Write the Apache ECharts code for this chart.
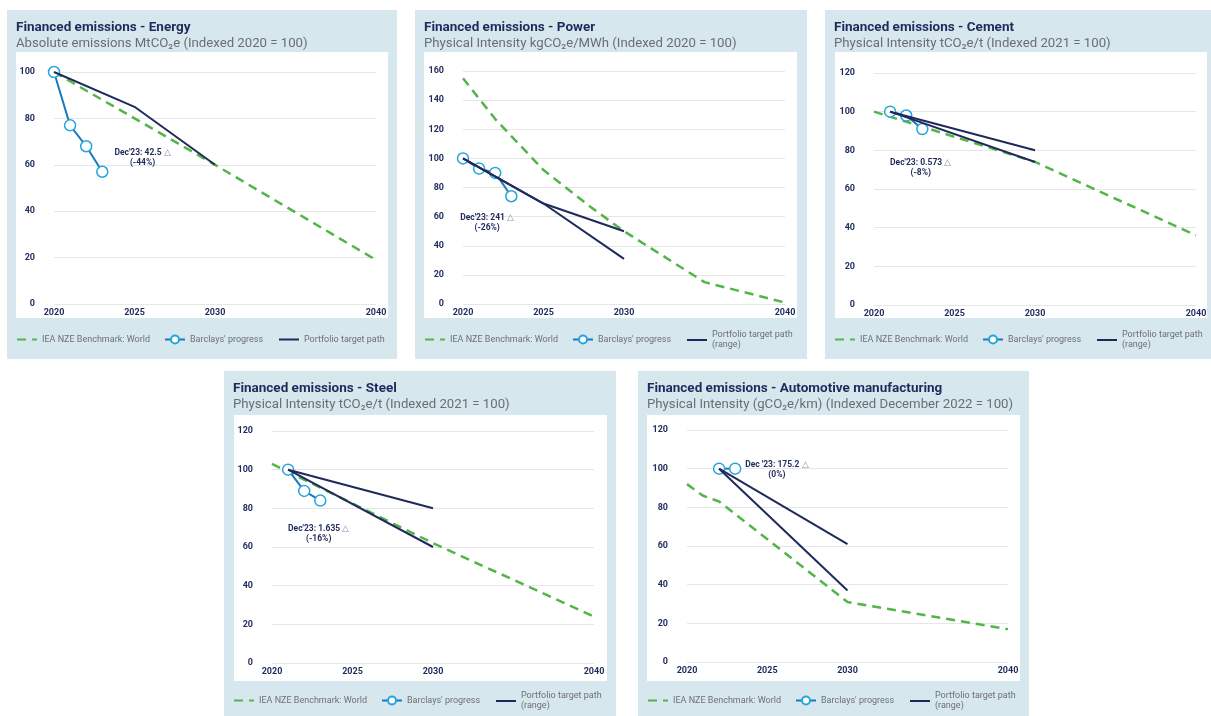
<!DOCTYPE html>
<html>
<head>
<meta charset="utf-8">
<script src="https://cdn.jsdelivr.net/npm/echarts@6/dist/echarts.min.js"></script>
<style>
  html, body { margin: 0; padding: 0; background: #fff; }
  #chart { width: 1211px; height: 716px; }
</style>
</head>
<body>
<div id="chart"></div>
<script>
// values: [year, index]
const xTicks = [2020, 2025, 2030, 2040];

const energyIea = [[2020, 100], [2030, 60], [2040, 19]];
const energyProgress = [[2020, 100], [2021, 77], [2022, 68], [2023, 57]];
const energyTargets = [[[2020, 100], [2025, 85], [2030, 60]]];

const powerIea = [[2020, 155], [2022, 127], [2025, 92], [2028, 66], [2030, 50], [2035, 15], [2040, 1]];
const powerProgress = [[2020, 100], [2021, 93], [2022, 90], [2023, 74]];
const powerTargets = [[[2020, 100], [2025, 69], [2030, 50]], [[2020, 100], [2025, 69], [2030, 31]]];

const cementIea = [[2020, 100], [2030, 74], [2040, 36]];
const cementProgress = [[2021, 100], [2022, 98], [2023, 91]];
const cementTargets = [[[2021, 100], [2030, 80]], [[2021, 100], [2030, 74]]];

const steelIea = [[2020, 103], [2030, 62], [2040, 24]];
const steelProgress = [[2021, 100], [2022, 89], [2023, 84]];
const steelTargets = [[[2021, 100], [2030, 80]], [[2021, 100], [2030, 60]]];

const autoIea = [[2020, 92], [2021, 86], [2022, 83], [2030, 31], [2040, 17]];
const autoProgress = [[2022, 100], [2023, 100]];
const autoTargets = [[[2022, 100], [2030, 61]], [[2022, 100], [2030, 37]]];

const yMaxes = [100, 160, 120, 120, 120];

const titles = [
  'Financed emissions - Energy',
  'Financed emissions - Power',
  'Financed emissions - Cement',
  'Financed emissions - Steel',
  'Financed emissions - Automotive manufacturing'
];
const subtitles = [
  'Absolute emissions MtCO₂e (Indexed 2020 = 100)',
  'Physical Intensity kgCO₂e/MWh (Indexed 2020 = 100)',
  'Physical Intensity tCO₂e/t (Indexed 2021 = 100)',
  'Physical Intensity tCO₂e/t (Indexed 2021 = 100)',
  'Physical Intensity (gCO₂e/km) (Indexed December 2022 = 100)'
];
const noteLines = [
  ["Dec'23: 42.5", '(-44%)'],
  ["Dec'23: 241", '(-26%)'],
  ["Dec'23: 0.573", '(-8%)'],
  ["Dec'23: 1.635", '(-16%)'],
  ["Dec '23: 175.2", '(0%)']
];
const noteAt = [[2025.5, 63], [2021.5, 55.5], [2022.9, 71], [2022.9, 67], [2025.6, 99.3]];

const ieaName = 'IEA NZE Benchmark: World';
const progressName = "Barclays' progress";
const targetNames = ['Portfolio target path', 'Portfolio target path\n(range)',
  'Portfolio target path\n(range)', 'Portfolio target path\n(range)', 'Portfolio target path\n(range)'];

const ieaSets = [energyIea, powerIea, cementIea, steelIea, autoIea];
const progressSets = [energyProgress, powerProgress, cementProgress, steelProgress, autoProgress];
const targetSets = [energyTargets, powerTargets, cementTargets, steelTargets, autoTargets];

// layout (pixels)
const panels = [
  { box: [7, 10, 390, 349], plot: [16, 52, 372, 266], grid: [54, 72, 322, 232] },
  { box: [415, 10, 392, 349], plot: [424, 52, 373, 266], grid: [463, 71, 322, 233] },
  { box: [825, 10, 386, 349], plot: [835, 52, 372, 266], grid: [874, 73, 322, 232] },
  { box: [224, 371, 392, 345], plot: [234, 415, 373, 266], grid: [272, 431, 322, 232] },
  { box: [638, 371, 391, 345], plot: [647, 415, 373, 266], grid: [687, 430, 321, 232] }
];

const NAVY = '#1f2a5c';
const GREEN = '#52b548';
const BLUE_LINE = '#1c79b9';
const BLUE_MARK = '#25a5dd';
const FONT = 'Roboto';

const chart = echarts.init(document.getElementById('chart'));

let graphics = [];
let title = [];
let grid = [];
let xAxis = [];
let yAxis = [];
let series = [];
let legend = [];

panels.forEach((p, i) => {
  graphics.push({
    type: 'rect', z: -20,
    shape: { x: p.box[0], y: p.box[1], width: p.box[2], height: p.box[3] },
    style: { fill: '#d6e8ee' }
  });
  graphics.push({
    type: 'rect', z: -19,
    shape: { x: p.plot[0], y: p.plot[1], width: p.plot[2], height: p.plot[3] },
    style: { fill: '#ffffff' }
  });

  title.push({
    text: titles[i],
    subtext: subtitles[i],
    left: p.box[0] + 9,
    top: p.box[1] + 10,
    padding: 0,
    itemGap: 1,
    textStyle: { fontFamily: FONT, fontSize: 13.5, fontWeight: 'bold', color: NAVY, lineHeight: 15 },
    subtextStyle: { fontFamily: FONT, fontSize: 13.2, color: '#6b6d73', lineHeight: 15 }
  });

  grid.push({ left: p.grid[0], top: p.grid[1], width: p.grid[2], height: p.grid[3] });

  xAxis.push({
    type: 'value', gridIndex: i, min: 2020, max: 2040, interval: 5,
    axisLine: { show: false }, axisTick: { show: false }, splitLine: { show: false },
    axisLabel: {
      margin: 4, fontFamily: FONT, fontSize: 9, fontWeight: 'bold', color: NAVY,
      formatter: v => (xTicks.includes(v) ? String(v) : '')
    }
  });

  yAxis.push({
    type: 'value', gridIndex: i, min: 0, max: yMaxes[i], interval: 20,
    axisLine: { show: false }, axisTick: { show: false },
    splitLine: { lineStyle: { color: '#e6e6e6', width: 1 } },
    axisLabel: { margin: 19, fontFamily: FONT, fontSize: 9, fontWeight: 'bold', color: NAVY, padding: [7, 0, 0, 0] }
  });

  series.push({
    name: ieaName, type: 'line', xAxisIndex: i, yAxisIndex: i,
    data: ieaSets[i], symbol: 'none', clip: false, z: 2,
    lineStyle: { color: GREEN, width: 2.5, type: [9, 6] },
    itemStyle: { color: GREEN }
  });

  series.push({
    name: progressName, type: 'line', xAxisIndex: i, yAxisIndex: i,
    data: progressSets[i], symbol: 'circle', symbolSize: 11, clip: false, z: 3,
    lineStyle: { color: BLUE_LINE, width: 2 },
    itemStyle: { color: '#ffffff', borderColor: BLUE_MARK, borderWidth: 1.5 },
    markPoint: {
      silent: true, symbol: 'circle', symbolSize: 1,
      itemStyle: { color: 'rgba(0,0,0,0)', borderWidth: 0 },
      label: {
        show: true, position: 'inside', align: 'center',
        fontFamily: FONT, fontSize: 8.5, fontWeight: 'bold', color: NAVY, lineHeight: 10,
        formatter: noteLines[i][0] + ' {t|△}\n' + noteLines[i][1],
        rich: { t: { fontSize: 9, color: '#8b8fa0', fontWeight: 'normal', lineHeight: 10 } }
      },
      data: [{ coord: noteAt[i] }]
    }
  });

  targetSets[i].forEach(t => {
    series.push({
      name: targetNames[i], type: 'line', xAxisIndex: i, yAxisIndex: i,
      data: t, symbol: 'none', clip: false, z: 4,
      lineStyle: { color: NAVY, width: 2 },
      itemStyle: { color: NAVY }
    });
  });

  // one legend per item so each sits where the reference puts it
  const cy = p.box[1] + 330;
  const items = [
    { name: ieaName, dx: 9, lines: 1, hideSymbol: true },
    { name: progressName, dx: 157, lines: 1, hideSymbol: false },
    { name: targetNames[i], dx: 271, lines: i === 0 ? 1 : 2, hideSymbol: true }
  ];
  items.forEach(it => {
    const l = {
      data: [it.name],
      left: p.box[0] + it.dx,
      top: cy - (it.lines === 2 ? 10 : 5.5),
      padding: 0, itemGap: 0, itemWidth: 20, itemHeight: 10,
      selectedMode: false,
      textStyle: { fontFamily: FONT, fontSize: 9, color: '#6d6f75', lineHeight: 10 }
    };
    if (it.hideSymbol) {
      l.itemStyle = { color: 'rgba(0,0,0,0)', borderColor: 'rgba(0,0,0,0)', borderWidth: 0 };
    }
    legend.push(l);
  });
});

let option = {
  animation: false,
  backgroundColor: '#ffffff',
  graphic: graphics,
  title: title,
  grid: grid,
  xAxis: xAxis,
  yAxis: yAxis,
  legend: legend,
  series: series
};
chart.setOption(option);
</script>
</body>
</html>
